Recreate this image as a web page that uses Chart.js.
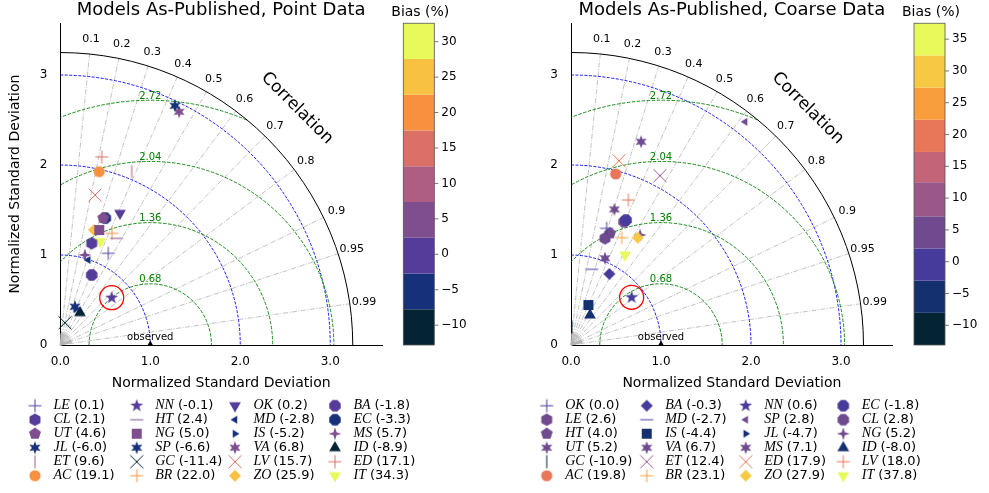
<!DOCTYPE html>
<html>
<head>
<meta charset="utf-8">
<script src="https://cdn.jsdelivr.net/npm/chart.js@4.4.0/dist/chart.umd.min.js"></script>
<style>
  html, body { margin: 0; padding: 0; background: #fff; }
  #wrap { position: relative; width: 989px; height: 493px; }
  canvas { position: absolute; top: 0; }
  #pointChart { left: 0; }
  #coarseChart { left: 494px; }
</style>
</head>
<body>
<div id="wrap">
  <canvas id="pointChart" width="494" height="493"></canvas>
  <canvas id="coarseChart" width="495" height="493"></canvas>
</div>
<script>
// Point data panel (legend order, column by column)
const pointNames = ['LE', 'CL', 'UT', 'JL', 'ET', 'AC', 'NN', 'HT', 'NG', 'SP', 'GC', 'BR',
                    'OK', 'MD', 'IS', 'VA', 'LV', 'ZO', 'BA', 'EC', 'MS', 'ID', 'ED', 'IT'];
const pointBias = [0.1, 2.1, 4.6, -6.0, 9.6, 19.1, -0.1, 2.4, 5.0, -6.6, -11.4, 22.0,
                   0.2, -2.8, -5.2, 6.8, 15.7, 25.9, -1.8, -3.3, 5.7, -8.9, 17.1, 34.3];
const pointStd = [1.150, 1.183, 1.489, 2.948, 2.083, 1.974, 0.776, 1.340, 1.349, 0.456, 0.253, 1.367,
                  1.606, 0.994, 0.435, 2.908, 1.711, 1.332, 0.853, 1.496, 1.037, 0.421, 2.140, 1.231];
const pointCorr = [0.463, 0.295, 0.321, 0.432, 0.381, 0.219, 0.736, 0.467, 0.321, 0.357, 0.205, 0.420,
                   0.413, 0.313, 0.391, 0.454, 0.226, 0.281, 0.409, 0.334, 0.264, 0.520, 0.215, 0.361];
const pointShapes = ['plus', 'hexagon', 'pentagon', 'star6', 'vline', 'circle', 'star5', 'hline', 'square', 'star6', 'x', 'plus',
                     'tridown', 'trileft', 'triright', 'star6', 'x', 'diamond', 'octagon', 'octagon', 'star4', 'triup', 'plus', 'tridown'];

// Coarse data panel
const coarseNames = ['OK', 'LE', 'HT', 'UT', 'GC', 'AC', 'BA', 'MD', 'IS', 'VA', 'ET', 'BR',
                     'NN', 'SP', 'JL', 'MS', 'ED', 'ZO', 'EC', 'CL', 'NG', 'ID', 'LV', 'IT'];
const coarseBias = [0.0, 2.6, 4.0, 5.2, -10.9, 19.8, -0.3, -2.7, -4.4, 6.7, 12.4, 23.1,
                    0.6, 2.8, -4.7, 7.1, 17.9, 27.9, -1.8, 2.8, 5.2, -8.0, 18.0, 37.8];
const coarseStd = [1.355, 1.244, 1.314, 2.389, 0.200, 1.964, 0.897, 0.872, 0.484, 1.582, 2.125, 1.319,
                   0.857, 3.145, 0.479, 1.035, 2.116, 1.404, 1.517, 1.491, 1.443, 0.394, 1.732, 1.166];
const coarseCorr = [0.292, 0.304, 0.330, 0.326, 0.050, 0.253, 0.475, 0.264, 0.399, 0.305, 0.465, 0.427,
                    0.786, 0.615, 0.396, 0.365, 0.252, 0.528, 0.403, 0.395, 0.532, 0.535, 0.368, 0.515];
const coarseShapes = ['plus', 'hexagon', 'pentagon', 'star6', 'vline', 'circle', 'diamond', 'hline', 'square', 'star6', 'x', 'plus',
                      'star5', 'trileft', 'triright', 'star6', 'x', 'diamond', 'octagon', 'octagon', 'star4', 'triup', 'plus', 'tridown'];

// Taylor diagram frame
const obsStd = 1.0;
const maxStd = 3.25;
const axisMax = 3.575;
const axisTicks = [0, 1, 2, 3];
const stdArcs = [1, 2, 3];
const rmsArcs = [0.68, 1.36, 2.04, 2.72];
const corrTicks = [0.1, 0.2, 0.3, 0.4, 0.5, 0.6, 0.7, 0.8, 0.9, 0.95, 0.99];
const corrMinor = [0.05, 0.15, 0.25, 0.35, 0.45, 0.55, 0.65, 0.75, 0.85, 0.91, 0.92, 0.93, 0.94, 0.96, 0.97, 0.98];

// Bias colour bins
const pointBiasEdges = [-12.8, -7.76, -2.71, 2.33, 7.38, 12.42, 17.47, 22.51, 27.56, 32.6];
const pointBiasColors = ['#042333', '#17307a', '#553c9a', '#7e4e8f', '#ae5e82', '#dc6f66', '#f8913f', '#f8c142', '#e8f95a'];
const pointBiasTicks = [-10, -5, 0, 5, 10, 15, 20, 25, 30];
const coarseBiasEdges = [-13.1, -8.04, -2.98, 2.08, 7.14, 12.5, 17.26, 22.32, 27.38, 32.44, 37.5];
const coarseBiasColors = ['#042333', '#15306f', '#463a9b', '#6f4a8e', '#9a5888', '#c36478', '#e8775a', '#f99e3d', '#f6c843', '#e8fa5b'];
const coarseBiasTicks = [-10, -5, 0, 5, 10, 15, 20, 25, 30, 35];

const SANS = 'DejaVu Sans';
Chart.defaults.font.family = SANS;
Chart.defaults.color = '#000';

function binColor(v, edges, colors) {
    for (let i = 0; i < colors.length; i++) {
        if (v < edges[i + 1]) return colors[i];
    }
    return colors[colors.length - 1];
}

function polar(std, corr) {
    return { x: std * corr, y: std * Math.sqrt(1 - corr * corr) };
}

function starPath(g, n, ro, ri, rot) {
    g.beginPath();
    for (let i = 0; i < 2 * n; i++) {
        const r = i % 2 ? ri : ro;
        const a = rot + i * Math.PI / n;
        g.lineTo(r * Math.sin(a), -r * Math.cos(a));
    }
    g.closePath();
}

function polyPath(g, n, r, rot) {
    g.beginPath();
    for (let i = 0; i < n; i++) {
        const a = rot + i * 2 * Math.PI / n;
        g.lineTo(r * Math.sin(a), -r * Math.cos(a));
    }
    g.closePath();
}

// Marker images used as Chart.js pointStyle
function makeMarker(shape, color) {
    const c = document.createElement('canvas');
    c.width = 20; c.height = 20;
    const g = c.getContext('2d');
    g.translate(10, 10);
    g.fillStyle = color;
    g.strokeStyle = color;
    g.lineWidth = 1;
    const h = 6.5;
    switch (shape) {
        case 'circle': g.beginPath(); g.arc(0, 0, 5.6, 0, Math.PI * 2); g.fill(); break;
        case 'octagon': polyPath(g, 8, 6.2, Math.PI / 8); g.fill(); break;
        case 'hexagon': polyPath(g, 6, 6.3, 0); g.fill(); break;
        case 'pentagon': polyPath(g, 5, 6.3, 0); g.fill(); break;
        case 'square': g.fillRect(-5, -5, 10, 10); break;
        case 'diamond': polyPath(g, 4, 6, 0); g.fill(); break;
        case 'triup': polyPath(g, 3, 6.8, 0); g.fill(); break;
        case 'tridown': polyPath(g, 3, 6.8, Math.PI); g.fill(); break;
        case 'trileft': polyPath(g, 3, 4.5, -Math.PI / 2); g.fill(); break;
        case 'triright': polyPath(g, 3, 4.5, Math.PI / 2); g.fill(); break;
        case 'star5': starPath(g, 5, 6.8, 2.7, 0); g.fill(); break;
        case 'star6': starPath(g, 6, 6.5, 3.0, 0); g.fill(); break;
        case 'star4': starPath(g, 4, 6.5, 2.2, 0); g.fill(); break;
        case 'plus':
            g.beginPath(); g.moveTo(-h, 0); g.lineTo(h, 0); g.moveTo(0, -h); g.lineTo(0, h); g.stroke(); break;
        case 'x':
            g.beginPath(); g.moveTo(-h, -h); g.lineTo(h, h); g.moveTo(-h, h); g.lineTo(h, -h); g.stroke(); break;
        case 'hline':
            g.beginPath(); g.moveTo(-h, 0); g.lineTo(h, 0); g.stroke(); break;
        case 'vline':
            g.beginPath(); g.moveTo(0, -h); g.lineTo(0, h); g.stroke(); break;
    }
    return c;
}

function fmtTick(v) {
    return v < 0 ? '\u2212' + Math.abs(v) : String(v);
}

function buildPanel(id, p) {
    const markers = p.names.map((n, i) => makeMarker(p.shapes[i], binColor(p.bias[i], p.edges, p.colors)));
    const nn = p.names.indexOf('NN');

    const datasets = [{
        label: 'highlight',
        data: [polar(p.std[nn], p.corr[nn])],
        pointStyle: 'circle',
        pointRadius: 12,
        pointBorderColor: '#ff0000',
        pointBackgroundColor: 'rgba(0,0,0,0)',
        pointBorderWidth: 1.3,
        clip: false
    }];
    p.names.forEach((n, i) => {
        datasets.push({
            label: n,
            data: [polar(p.std[i], p.corr[i])],
            pointStyle: markers[i],
            pointRadius: 6,
            clip: false
        });
    });
    datasets.push({
        label: 'observed',
        data: [polar(obsStd, 1)],
        pointStyle: 'triangle',
        pointRadius: 4.5,
        pointBackgroundColor: '#000',
        pointBorderColor: '#000',
        pointBorderWidth: 0,
        clip: 0
    });

    const taylor = {
        id: 'taylor',
        beforeDatasetsDraw(chart) {
            const { ctx, scales: { x, y } } = chart;
            const ox = x.getPixelForValue(0), oy = y.getPixelForValue(0);
            const k = x.getPixelForValue(1) - ox;
            const px = (vx, vy) => [x.getPixelForValue(vx), y.getPixelForValue(vy)];
            ctx.save();

            // correlation rays
            ctx.strokeStyle = '#b4b4b4';
            ctx.lineWidth = 0.8;
            ctx.setLineDash([5, 1.5, 1, 1.5]);
            corrTicks.forEach(c => {
                const [ex, ey] = px(maxStd * c, maxStd * Math.sqrt(1 - c * c));
                ctx.beginPath(); ctx.moveTo(ox, oy); ctx.lineTo(ex, ey); ctx.stroke();
            });
            ctx.setLineDash([]);
            corrMinor.forEach(c => {
                const [ex, ey] = px(0.13 * c, 0.13 * Math.sqrt(1 - c * c));
                ctx.beginPath(); ctx.moveTo(ox, oy); ctx.lineTo(ex, ey); ctx.stroke();
            });

            // std dev arcs
            ctx.strokeStyle = '#0000ff';
            ctx.lineWidth = 0.9;
            ctx.setLineDash([3, 1.5]);
            stdArcs.forEach(r => {
                ctx.beginPath(); ctx.arc(ox, oy, r * k, -Math.PI / 2, 0); ctx.stroke();
            });

            // centred RMS arcs around the observed point
            ctx.save();
            ctx.beginPath();
            ctx.moveTo(ox, oy);
            ctx.arc(ox, oy, maxStd * k, -Math.PI / 2, 0);
            ctx.closePath();
            ctx.clip();
            const [cx] = px(obsStd, 0);
            ctx.strokeStyle = '#008000';
            ctx.setLineDash([3.5, 1.5]);
            rmsArcs.forEach(r => {
                ctx.beginPath(); ctx.arc(cx, oy, r * k, -Math.PI, 0); ctx.stroke();
            });
            ctx.restore();

            ctx.setLineDash([]);
            ctx.fillStyle = '#008000';
            ctx.font = '10px ' + SANS;
            ctx.textAlign = 'center';
            ctx.textBaseline = 'middle';
            rmsArcs.forEach(r => {
                const [lx, ly] = px(obsStd, r + 0.045);
                ctx.fillText(r.toFixed(2), lx, ly);
            });

            // outer arc
            ctx.strokeStyle = '#000';
            ctx.lineWidth = 1;
            ctx.beginPath(); ctx.arc(ox, oy, maxStd * k, -Math.PI / 2, 0); ctx.stroke();

            // correlation labels
            ctx.fillStyle = '#000';
            ctx.font = '11px ' + SANS;
            corrTicks.forEach(c => {
                const [lx, ly] = px(3.41 * c, 3.41 * Math.sqrt(1 - c * c));
                ctx.fillText(String(c), lx, ly);
            });
            const [tx, ty] = px(3.72 * Math.SQRT1_2, 3.72 * Math.SQRT1_2);
            ctx.save();
            ctx.translate(tx, ty);
            ctx.rotate(Math.PI / 4);
            ctx.font = '17px ' + SANS;
            ctx.fillText('Correlation', 0, 0);
            ctx.restore();

            ctx.font = '10px ' + SANS;
            const [olx, oly] = px(obsStd, 0.085);
            ctx.fillText('observed', olx, oly);
            ctx.restore();
        },
        afterDraw(chart) {
            const { ctx, chartArea } = chart;
            ctx.save();

            // colour bar
            const lo = p.edges[0], hi = p.edges[p.edges.length - 1];
            const yOf = v => chartArea.bottom - (v - lo) / (hi - lo) * (chartArea.bottom - chartArea.top);
            const cbW = 31;
            p.colors.forEach((col, i) => {
                const y0 = yOf(p.edges[i + 1]), y1 = yOf(p.edges[i]);
                ctx.fillStyle = col;
                ctx.fillRect(p.cbX, y0, cbW, y1 - y0);
            });
            ctx.strokeStyle = '#555';
            ctx.lineWidth = 0.8;
            ctx.strokeRect(p.cbX, chartArea.top, cbW, chartArea.bottom - chartArea.top);
            ctx.fillStyle = '#000';
            ctx.font = '12px ' + SANS;
            ctx.textAlign = 'left';
            ctx.textBaseline = 'middle';
            p.cbTicks.forEach(t => {
                const ty = yOf(t);
                ctx.beginPath(); ctx.moveTo(p.cbX + cbW, ty); ctx.lineTo(p.cbX + cbW + 4, ty); ctx.stroke();
                ctx.fillText(fmtTick(t), p.cbX + cbW + 7, ty);
            });
            ctx.font = '14px ' + SANS;
            ctx.textAlign = 'center';
            ctx.fillText('Bias (%)', p.cbX + cbW / 2 + 1.5, 12.7);

            // legend, six rows per column
            p.names.forEach((n, i) => {
                const col = Math.floor(i / 6), row = i % 6;
                const mx = p.legendX[col], my = 405.7 + row * 14;
                ctx.drawImage(markers[i], mx - 10, my - 10);
                ctx.textAlign = 'left';
                ctx.font = 'italic 14px "Liberation Serif"';
                const tx = mx + 18.5;
                ctx.fillText(n, tx, my);
                const w = ctx.measureText(n).width;
                ctx.font = '13px ' + SANS;
                ctx.fillText('(' + p.bias[i].toFixed(1) + ')', tx + w + 4, my);
            });
            ctx.restore();
        }
    };

    return new Chart(document.getElementById(id), {
        type: 'scatter',
        data: { datasets: datasets },
        plugins: [taylor],
        options: {
            responsive: false,
            animation: false,
            devicePixelRatio: 1,
            events: [],
            layout: { padding: { left: 0, right: p.padRight, top: 0, bottom: 100 } },
            plugins: {
                legend: { display: false },
                tooltip: { enabled: false },
                title: {
                    display: true,
                    text: p.title,
                    fullSize: false,
                    color: '#000',
                    font: { size: 18, weight: 'normal', family: SANS },
                    padding: { top: 0, bottom: 1.65 }
                }
            },
            scales: {
                x: {
                    type: 'linear',
                    min: 0,
                    max: axisMax,
                    afterBuildTicks: s => { s.ticks = axisTicks.map(v => ({ value: v })); },
                    afterFit: s => { s.height = 48; },
                    grid: { display: false, drawTicks: false },
                    border: { display: true, color: '#000', width: 1 },
                    ticks: { callback: v => v.toFixed(1), font: { size: 12 }, color: '#000', padding: 10, maxRotation: 0 },
                    title: { display: true, text: 'Normalized Standard Deviation', font: { size: 14 }, color: '#000', padding: { top: 0, bottom: 1.6 } }
                },
                y: {
                    type: 'linear',
                    min: 0,
                    max: axisMax,
                    afterBuildTicks: s => { s.ticks = axisTicks.map(v => ({ value: v })); },
                    afterFit: s => { s.width = p.yWidth; },
                    grid: { display: false, drawTicks: false },
                    border: { display: true, color: '#000', width: 1 },
                    ticks: { callback: v => String(v), font: { size: 12 }, color: '#000', padding: 13 },
                    title: { display: p.yTitle, text: 'Normalized Standard Deviation', font: { size: 14 }, color: '#000', padding: { top: 6.6, bottom: 0 } }
                }
            }
        }
    });
}

buildPanel('pointChart', {
    title: 'Models As-Published, Point Data',
    names: pointNames, bias: pointBias, std: pointStd, corr: pointCorr, shapes: pointShapes,
    edges: pointBiasEdges, colors: pointBiasColors, cbTicks: pointBiasTicks,
    yTitle: true, yWidth: 60.3, padRight: 112, cbX: 403.3,
    legendX: [35, 136.7, 235, 335]
});

buildPanel('coarseChart', {
    title: 'Models As-Published, Coarse Data',
    names: coarseNames, bias: coarseBias, std: coarseStd, corr: coarseCorr, shapes: coarseShapes,
    edges: coarseBiasEdges, colors: coarseBiasColors, cbTicks: coarseBiasTicks,
    yTitle: false, yWidth: 77, padRight: 96.25, cbX: 420,
    legendX: [52.7, 152.7, 251.7, 349.3]
});
</script>
</body>
</html>
